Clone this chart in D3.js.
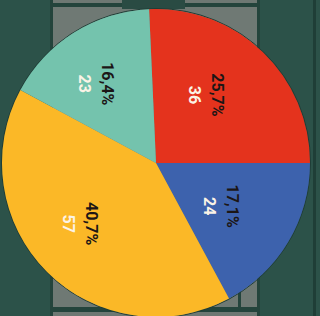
<!DOCTYPE html>
<html><head><meta charset="utf-8">
<script src="https://cdn.jsdelivr.net/npm/d3@7"></script>
<style>html,body{margin:0;padding:0;background:#2c5249;overflow:hidden}</style>
</head><body>
<svg id="c" width="320" height="316"></svg>
<script>
const categories = ["A", "B", "C", "D"];
const values = [36, 24, 57, 23];
const percentLabels = ["25,7%", "17,1%", "40,7%", "16,4%"];
const colors = ["#e4331d", "#3d62ad", "#fbb827", "#74c3ad"];

const W = 320, H = 316;
const svg = d3.select("#c");
svg.append("rect").attr("width", W).attr("height", H).attr("fill", "#2c5249");

// background panel (photo-like frame)
const bg = svg.append("g");
bg.append("rect").attr("x", 50).attr("y", 0).attr("width", 210).attr("height", 316).attr("fill", "#24443c");
bg.append("rect").attr("x", 53).attr("y", 0).attr("width", 204).attr("height", 3).attr("fill", "#6e7873");
bg.append("rect").attr("x", 53).attr("y", 7).attr("width", 204).attr("height", 300).attr("fill", "#6f7974");
bg.append("rect").attr("x", 53).attr("y", 312).attr("width", 204).attr("height", 4).attr("fill", "#6e7873");
bg.append("rect").attr("x", 122).attr("y", 0).attr("width", 63).attr("height", 9).attr("fill", "#2a4b43");
bg.append("rect").attr("x", 238).attr("y", 285).attr("width", 3).attr("height", 27).attr("fill", "#24443c");
bg.append("rect").attr("x", 313).attr("y", 0).attr("width", 3).attr("height", 316).attr("fill", "#1f3e37");

const cx = 156, cy = 163, r = 154;
const total = d3.sum(values);
const start = Math.PI / 2 - 2 * Math.PI * values[0] / total;
const pie = d3.pie().sort(null).startAngle(start).endAngle(start + 2 * Math.PI)(values);
const arc = d3.arc().innerRadius(0).outerRadius(r);
const labelArc = d3.arc().innerRadius(0).outerRadius(180);

const g = svg.append("g").attr("transform", `translate(${cx},${cy})`);
g.append("circle").attr("r", r + 0.5).attr("fill", "none").attr("stroke", "#1f3d36").attr("stroke-width", 1);
g.selectAll("path").data(pie).join("path")
  .attr("d", arc).attr("fill", (d, i) => colors[i]);

const lab = g.selectAll("g.lab").data(pie).join("g").attr("class", "lab")
  .attr("transform", d => { const c = labelArc.centroid(d); return `translate(${c[0]},${c[1]}) rotate(90)`; });
lab.append("text").attr("x", -3).attr("y", 6).attr("text-anchor", "middle")
  .attr("font-family", "Roboto, sans-serif").attr("font-weight", "bold").attr("font-size", 16)
  .attr("fill", "#1c1616").text((d, i) => percentLabels[i]);
lab.append("text").attr("x", -3).attr("y", 29).attr("text-anchor", "middle")
  .attr("font-family", "Roboto, sans-serif").attr("font-weight", "bold").attr("font-size", 16)
  .attr("fill", "#fbf3e6").text((d, i) => values[i]);
</script>
</body></html>
